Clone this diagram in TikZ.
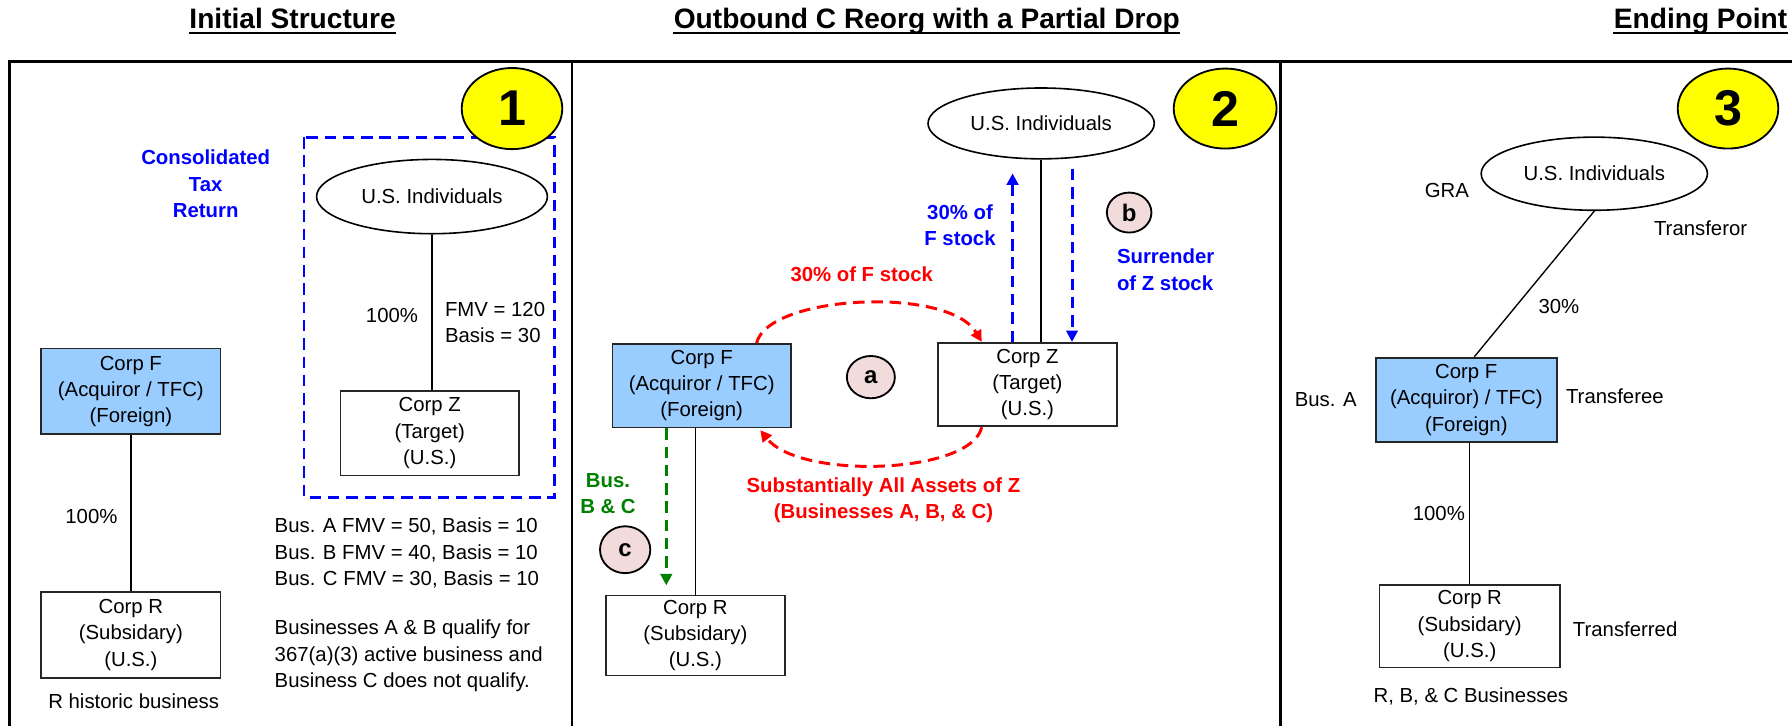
\documentclass[tikz,border=0pt]{standalone}
\usepackage{fontspec}
\setmainfont{Liberation Sans}
\usetikzlibrary{shapes.geometric,arrows.meta,calc}
\definecolor{fblue}{RGB}{153,204,255}
\definecolor{pinkc}{RGB}{242,220,219}
\definecolor{tblue}{RGB}{0,0,255}
\definecolor{tred}{RGB}{255,0,0}
\definecolor{tgreen}{RGB}{0,128,0}
\definecolor{yel}{RGB}{255,255,0}
\begin{document}
\begin{tikzpicture}[x=0.5pt,y=-0.5pt,
  every node/.style={font=\fontsize{8.9pt}{11.5pt}\selectfont, inner sep=0pt},
  corp/.style={rectangle, draw=black!85, line width=0.8pt, align=center},
  ell/.style={ellipse, draw, line width=0.7pt, fill=white},
  numc/.style={ellipse, draw, line width=0.8pt, fill=yel, font=\fontsize{22pt}{24pt}\selectfont\bfseries},
  letc/.style={ellipse, draw, line width=0.8pt, fill=pinkc, font=\fontsize{10.5pt}{12pt}\selectfont\bfseries},
  ttl/.style={font=\fontsize{12.3pt}{14pt}\selectfont\bfseries, anchor=base, text depth=0pt},
  bt/.style={font=\fontsize{8.9pt}{11.5pt}\selectfont\bfseries, align=center},
  frame/.style={line width=1.3pt},
  link/.style={line width=0.6pt},
  dsh/.style={line width=1.3pt, dash pattern=on 5pt off 3pt},
  tip/.style={-{Triangle[length=5pt,width=5pt]}}]
\useasboundingbox (0,0) rectangle (1568,635);

% titles
\node[ttl] (t1) at (256,25) {Initial Structure};
\node[ttl] (t2) at (811,25) {Outbound C Reorg with a Partial Drop};
\node[ttl] (t3) at (1488,25) {Ending Point};
\foreach \t in {t1,t2,t3}
  \draw[line width=1.2pt] ([yshift=-1.75pt]\t.south west) -- ([yshift=-1.75pt]\t.south east);

% frame
\draw[frame] (8,640) -- (8,54) -- (1572,54);
\draw[frame] (500.5,54) -- (500.5,640);
\draw[frame] (1120,54) -- (1120,640);

% ---------- panel 1 ----------
\draw[dsh, tblue] (266,120) rectangle (485,435);
\node[numc, minimum width=44pt, minimum height=35.5pt] (n1) at (448,95) {\raisebox{-3pt}{1}};
\node[bt, text=tblue] (ctr) at (180,161) {Consolidated\\Tax\\Return};
\node[ell, minimum width=101pt, minimum height=32.5pt] (ui1) at (378,172) {U.S. Individuals};
\node[corp, minimum width=78pt, minimum height=37pt] (fZ1) at (376,379) {Corp Z\\(Target)\\(U.S.)};
\draw[link] (ui1.south) -- (ui1.south |- fZ1.north);
\node (p1a) at (343,276) {100\%};
\node[anchor=west, align=left] (fmv) at (389,282) {FMV = 120\\Basis = 30};

\node[corp, fill=fblue, minimum width=78.5pt, minimum height=37.5pt] (fF1) at (114.5,342.5) {Corp F\\(Acquiror / TFC)\\(Foreign)};
\node[corp, minimum width=78.5pt, minimum height=37.5pt] (fR1) at (114.5,555.5) {Corp R\\(Subsidary)\\(U.S.)};
\draw[link] (fF1) -- (fR1);
\node (p1b) at (80,452) {100\%};
\node (rh) at (117,614) {R historic business};
\node[anchor=west, align=left] (bus) at (240,484) {Bus. A FMV = 50, Basis = 10\\Bus. B FMV = 40, Basis = 10\\Bus. C FMV = 30, Basis = 10};
\node[anchor=west, align=left] (qual) at (240,574) {Businesses A \& B qualify for\\367(a)(3) active business and\\Business C does not qualify.};

% ---------- panel 2 ----------
\node[numc, minimum width=45pt, minimum height=35pt] (n2) at (1072,95) {\raisebox{-3pt}{2}};
\node[ell, minimum width=99pt, minimum height=31pt] (ui2) at (911,108) {U.S. Individuals};
\node[corp, fill=fblue, minimum width=78pt, minimum height=36.5pt] (fF2) at (614,337.5) {Corp F\\(Acquiror / TFC)\\(Foreign)};
\node[corp, minimum width=78pt, minimum height=36.5pt] (fZ2) at (899,336.5) {Corp Z\\(Target)\\(U.S.)};
\node[corp, minimum width=78.5pt, minimum height=35pt] (fR2) at (608.5,556) {Corp R\\(Subsidary)\\(U.S.)};
\draw[link] (ui2.south) -- (ui2.south |- fZ2.north);
\draw[link] (fF2.south -| fR2.north) -- (fR2.north);
\draw[dsh, tblue, tip, shorten >=6pt] ($(fZ2.north)+(-13,0)$) -- ($(ui2.south)+(-25,0)$);
\draw[dsh, tblue, tip, shorten <=4pt] ($(ui2.south)+(27,0)$) -- ($(fZ2.north)+(39,0)$);
\draw[dsh, tgreen, tip, shorten >=4pt] ($(fF2.south)+(-31,0)$) -- ($(fR2.north)+(-25.5,0)$);
\draw[dsh, tred, tip] ($(fF2.north)+(48,0)$) .. controls (672,258) and (830,250) .. ($(fZ2.north)+(-40,0)$);
\draw[dsh, tred, tip, shorten >=1pt] ($(fZ2.south)+(-40,0)$) .. controls (850,415) and (700,420) .. ($(fF2.south)+(50,0)$);
\node[letc, minimum width=21pt, minimum height=18.5pt] (la) at (762,330) {a};
\node[letc, minimum width=19.5pt, minimum height=17.5pt] (lb) at (988,186) {b};
\node[letc, minimum width=22pt, minimum height=20.5pt] (lc) at (547,481) {c};
\node[bt, text=tblue] (l30F) at (840,197) {30\% of\\F stock};
\node[bt, text=tblue, align=left, anchor=west] (lsur) at (977,236) {Surrender\\of Z stock};
\node[bt, text=tred] (l30r) at (754,240) {30\% of F stock};
\node[bt, text=tred] (lsub) at (773,438) {Substantially All Assets of Z\\(Businesses A, B, \& C)};
\node[bt, text=tgreen] (lbus) at (532,432) {Bus.\\B \& C};

% ---------- panel 3 ----------
\node[numc, minimum width=44pt, minimum height=35pt] (n3) at (1512,95) {\raisebox{-3pt}{3}};
\node[ell, minimum width=99pt, minimum height=32pt] (ui3) at (1395,152) {U.S. Individuals};
\node[corp, fill=fblue, minimum width=79pt, minimum height=37pt] (fF3) at (1283,350) {Corp F\\(Acquiror) / TFC)\\(Foreign)};
\node[corp, minimum width=79pt, minimum height=36pt] (fR3) at (1286,548) {Corp R\\(Subsidary)\\(U.S.)};
\draw[link] (ui3.south) -- ($(fF3.north)+(7,0)$);
\draw[link] (fF3.south -| fR3.north) -- (fR3.north);
\node (gra) at (1266,167) {GRA};
\node (tfor) at (1488,200) {Transferor};
\node (p30) at (1364,268) {30\%};
\node (busa) at (1160,350) {Bus. A};
\node (tfee) at (1413,347) {Transferee};
\node (p3) at (1259,449) {100\%};
\node (tred3) at (1422,551) {Transferred};
\node (rbc) at (1287,609) {R, B, \& C Businesses};
\end{tikzpicture}
\end{document}
